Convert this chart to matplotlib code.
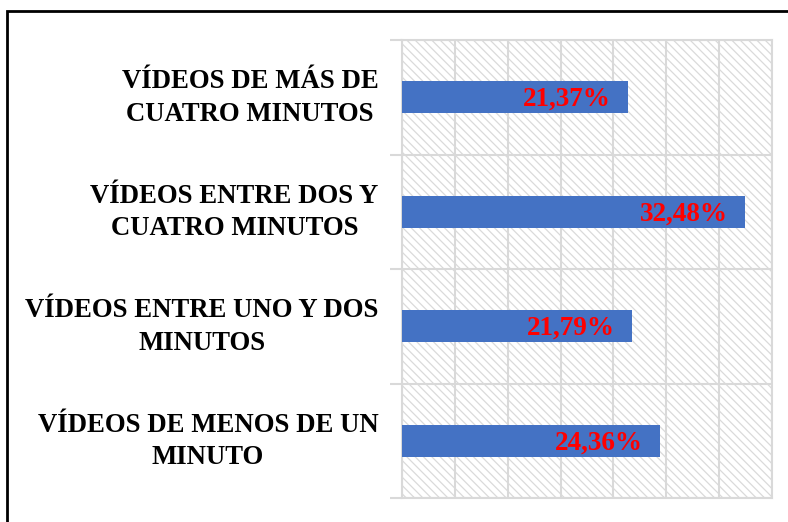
import matplotlib.pyplot as plt
from matplotlib.patches import Rectangle
from matplotlib.transforms import ScaledTranslation

plt.rcParams['font.family'] = ['Liberation Serif', 'DejaVu Serif']
plt.rcParams['hatch.linewidth'] = 0.9

# datos (de arriba hacia abajo)
categorias = [
    'VÍDEOS DE MÁS DE\nCUATRO MINUTOS',
    'VÍDEOS ENTRE DOS Y\nCUATRO MINUTOS',
    'VÍDEOS ENTRE UNO Y DOS\nMINUTOS',
    'VÍDEOS DE MENOS DE UN\nMINUTO',
]
valores = [0.2137, 0.3248, 0.2179, 0.2436]
etiquetas = ['21,37%', '32,48%', '21,79%', '24,36%']

fig = plt.figure(figsize=(7.88, 5.22), dpi=100)
ax = fig.add_axes([402 / 788, 24 / 522, 370 / 788, 458 / 522])

# fondo rayado
fondo = Rectangle((0, 0), 1, 1, transform=ax.transAxes, facecolor='white',
                  edgecolor='#dadada', hatch='\\\\\\\\', lw=0, zorder=0)
ax.add_patch(fondo)

pos = list(range(len(categorias)))
ax.barh(pos, valores, height=0.28, color='#4472C4', zorder=3)

for y, v, t in zip(pos, valores, etiquetas):
    ax.annotate(t, (v, y), xytext=(-17, -2), textcoords='offset pixels',
                ha='right', va='center', color='#FF0000', fontsize=19.5,
                fontweight='bold', zorder=4)

ax.set_xlim(0, 0.35)
ax.set_ylim(3.5, -0.5)
ax.set_xticks([i * 0.05 for i in range(8)])
ax.tick_params(axis='x', length=0, labelbottom=False)
ax.grid(axis='x', color='#d9d9d9', lw=1.5, zorder=1)

ax.set_yticks(pos)
ax.set_yticklabels(categorias, fontsize=19.3, fontweight='bold',
                   multialignment='center', linespacing=1.4)
ax.tick_params(axis='y', which='major', length=0, pad=17)
subir = ScaledTranslation(0, 6 / 100, fig.dpi_scale_trans)
for lab in ax.get_yticklabels():
    lab.set_transform(lab.get_transform() + subir)
ax.set_yticks([-0.5, 0.5, 1.5, 2.5, 3.5], minor=True)
ax.tick_params(axis='y', which='minor', length=9, width=1.5, color='#d9d9d9')
ax.grid(axis='y', which='minor', color='#d9d9d9', lw=1.5, zorder=1)

for s in ax.spines.values():
    s.set_color('#d9d9d9')
    s.set_linewidth(1.5)

# marco exterior
marco = Rectangle((7 / 788, -0.05), 1.05, 1.05 - 11 / 522,
                  transform=fig.transFigure, fill=False, edgecolor='black',
                  lw=2, clip_on=False)
fig.patches.append(marco)

fig.savefig('out.png', dpi=100)
